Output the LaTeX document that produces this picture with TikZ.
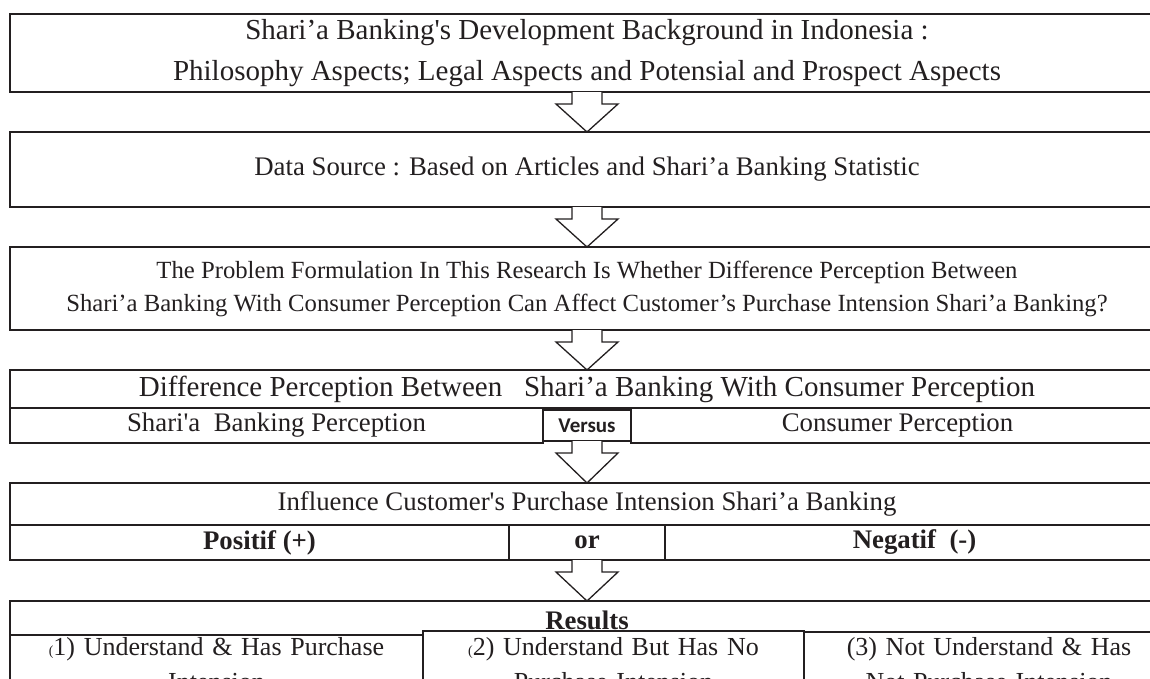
\documentclass[tikz,border=0pt]{standalone}
\usepackage{fontspec}
\setmainfont{Liberation Serif}[Ligatures=TeXOff]
\newfontfamily\versusfamily{Carlito}
\usetikzlibrary{positioning,calc}
\definecolor{ink}{HTML}{231F20}
\newcommand\txthead{\fontsize{29}{40.5}\selectfont}
\newcommand\txtmid{\fontsize{26.8}{36}\selectfont}
\newcommand\txtcell{\fontsize{26}{35}\selectfont}
\newcommand\txtsmall{\fontsize{24.7}{33}\selectfont}
\newcommand\txtversus{\versusfamily\bfseries\fontsize{21}{24}\selectfont}
\tikzstyle{block} = [rectangle, draw=ink, line width=2pt, inner sep=0pt, outer sep=0pt,
      minimum width=1154pt, align=center, text=ink]
\tikzstyle{cell} = [rectangle, draw=ink, line width=2pt, inner sep=0pt, outer sep=0pt,
      minimum height=35pt, align=center, text=ink, font=\txtmid]
\tikzstyle{hollow} = [draw=ink, fill=white, line width=1.3pt, line join=miter]
\newcommand\hollowarrow[2]{%
  \path[hollow] let \p1=(#1.south), \p2=(#2.north) in
    (\x1-15pt,\y1) -- (\x1-15pt,\y1-12pt) -- (\x1-31pt,\y1-12pt) -- (\x2,\y2)
    -- (\x1+31pt,\y1-12pt) -- (\x1+15pt,\y1-12pt) -- (\x1+15pt,\y1);}

\begin{document}
\begin{tikzpicture}[x=1pt, y=-1pt]
  \useasboundingbox (0,0) rectangle (1150,678);
  \clip (0,0) rectangle (1150,678);
  % Nodes
  \node [block, anchor=north, minimum height=78pt, font=\txthead] (background) at (587,14)
    {Shari’a Banking's Development Background in Indonesia :\\
     Philosophy Aspects; Legal Aspects and Potensial and Prospect Aspects};
  \node [block, below=40pt of background, minimum height=75pt, font=\txtmid] (source)
    {Data Source : Based on Articles and Shari’a Banking Statistic};
  \node [block, below=40pt of source, minimum height=83pt, font=\txtsmall] (problem)
    {The Problem Formulation In This Research Is Whether Difference Perception Between\\
     Shari’a Banking With Consumer Perception Can Affect Customer’s Purchase Intension Shari’a Banking?};
  \node [block, below=40pt of problem, minimum height=38pt, font=\txthead] (difference)
    {Difference Perception Between\ \ \ Shari’a Banking With Consumer Perception};
  \node [cell, minimum width=533pt, anchor=north west] (bankview) at (difference.south west)
    {Shari'a\ \ Banking Perception};
  \node [cell, minimum width=88pt, minimum height=31pt, right=0pt of bankview, font=\txtversus] (versus) {Versus};
  \node [cell, minimum width=533pt, right=0pt of versus] (consumerview) {Consumer Perception};
  \node [block, below=42pt of versus, minimum height=42pt, font=\txtmid] (influence)
    {Influence Customer's Purchase Intension Shari’a Banking};
  \node [cell, minimum width=499pt, anchor=north west, font=\txtmid\bfseries] (positive) at (influence.south west)
    {Positif (+)};
  \node [cell, minimum width=156pt, right=0pt of positive, font=\txtmid\bfseries] (or) {or};
  \node [cell, minimum width=499pt, right=0pt of or, font=\txtmid\bfseries] (negative) {Negatif\ \ (-)};
  \node [block, below=41pt of or, minimum height=110pt] (results) {};
  \node [anchor=base, inner sep=0pt, text=ink, font=\txtmid\bfseries] (resultstitle)
    at ($(results.north)+(0,28)$) {Results};
  \node [cell, anchor=north west, minimum width=413pt, text width=413pt, inner ysep=2pt, font=\txtcell] (understandyes)
    at ($(results.north west)+(0,34)$) {{\fontsize{14}{14}\selectfont(}1) Understand \& Has Purchase\\ Intension};
  \node [cell, anchor=north west, minimum width=381pt, text width=381pt, inner ysep=6pt, font=\txtcell] (understandno)
    at ($(results.north west)+(413,30)$) {{\fontsize{14}{14}\selectfont(}2) Understand But Has No\\ Purchase Intension};
  \node [cell, anchor=north west, minimum width=370pt, text width=370pt, inner ysep=5pt, font=\txtcell] (notunderstand)
    at ($(results.north west)+(794,31)$) {(3) Not Understand \& Has\\ Not Purchase Intension};
  % Arrows
  \hollowarrow{background}{source}
  \hollowarrow{source}{problem}
  \hollowarrow{problem}{difference}
  \hollowarrow{versus}{influence}
  \hollowarrow{or}{results}
\end{tikzpicture}
\end{document}
